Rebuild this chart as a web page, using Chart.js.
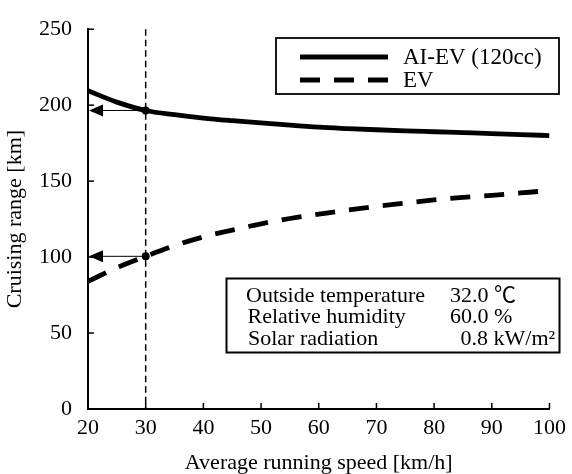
<!DOCTYPE html>
<html>
<head>
<meta charset="utf-8">
<script src="https://cdn.jsdelivr.net/npm/chart.js@4/dist/chart.umd.min.js"></script>
<style>
  html, body { margin: 0; padding: 0; background: #fff; }
  #wrap { width: 572px; height: 474px; position: relative; }
</style>
</head>
<body>
<div id="wrap"><canvas id="c" width="572" height="474"></canvas></div>
<script>
// ---- data ----
const speeds = [20, 25, 30, 35, 40, 45, 50, 55, 60, 65, 70, 75, 80, 85, 90, 95, 100];
const aiEvRange = [209.5, 202.0, 196.5, 193.7, 191.5, 189.8, 188.3, 186.8, 185.5, 184.6, 183.8, 183.1, 182.5, 181.9, 181.3, 180.6, 180.0];
const evRange = [84.0, 93.0, 100.5, 107.5, 113.3, 117.7, 121.9, 125.4, 128.2, 131.0, 133.4, 135.5, 137.6, 139.3, 140.6, 142.2, 143.8];
const seriesLabels = ['AI-EV (120cc)', 'EV'];
const markSpeed = 30;
const conditionLabels = ['Outside temperature', 'Relative humidity', 'Solar radiation'];
const conditionValues = ['32.0 \u2103', '60.0 %', '0.8 kW/m\u00B2'];
const xTitle = 'Average running speed [km/h]';
const yTitle = 'Cruising range [km]';

const FONT = "'Liberation Serif', 'Noto Sans CJK JP', 'Times New Roman', serif";
const FONT_SIZE = 22;

const toPts = (xs, ys) => xs.map((x, i) => ({ x: x, y: ys[i] }));

const overlay = {
  id: 'overlay',
  beforeDatasetsDraw(chart) {
    const ctx = chart.ctx;
    const xs = chart.scales.x, ys = chart.scales.y;
    const area = chart.chartArea;
    ctx.save();
    const px = xs.getPixelForValue(markSpeed);
    ctx.strokeStyle = '#000';
    ctx.lineWidth = 1.5;
    ctx.setLineDash([6.5, 4]);
    ctx.beginPath();
    ctx.moveTo(px, area.top);
    ctx.lineTo(px, area.bottom);
    ctx.stroke();
    ctx.setLineDash([]);
    ctx.lineWidth = 1.5;
    ys.ticks.forEach(t => {
      const y = ys.getPixelForValue(t.value);
      ctx.beginPath();
      ctx.moveTo(area.left, y);
      ctx.lineTo(area.left + 6, y);
      ctx.stroke();
    });
    xs.ticks.forEach(t => {
      const x = xs.getPixelForValue(t.value);
      ctx.beginPath();
      ctx.moveTo(x, area.bottom);
      ctx.lineTo(x, area.bottom - 6);
      ctx.stroke();
    });
    ctx.restore();
  },
  afterDatasetsDraw(chart) {
    const ctx = chart.ctx;
    const xs = chart.scales.x, ys = chart.scales.y;
    const area = chart.chartArea;
    ctx.save();
    const idx = speeds.indexOf(markSpeed);
    const px = xs.getPixelForValue(markSpeed);
    [aiEvRange[idx], evRange[idx]].forEach(v => {
      const py = ys.getPixelForValue(v);
      const tip = area.left + 1;
      ctx.strokeStyle = '#000';
      ctx.fillStyle = '#000';
      ctx.lineWidth = 1;
      ctx.beginPath();
      ctx.moveTo(px, py);
      ctx.lineTo(tip + 12, py);
      ctx.stroke();
      ctx.beginPath();
      ctx.moveTo(tip, py);
      ctx.lineTo(tip + 14, py - 6);
      ctx.lineTo(tip + 14, py + 6);
      ctx.closePath();
      ctx.fill();
      ctx.beginPath();
      ctx.arc(px, py, 4, 0, Math.PI * 2);
      ctx.fill();
    });

    // legend box
    ctx.fillStyle = '#fff';
    ctx.fillRect(276, 38, 283, 56);
    ctx.strokeStyle = '#000';
    ctx.lineWidth = 1.8;
    ctx.strokeRect(276, 38, 283, 56);
    const dsets = chart.data.datasets;
    const rows = [57, 80];
    ctx.font = '23px ' + FONT;
    ctx.textBaseline = 'alphabetic';
    ctx.textAlign = 'left';
    dsets.forEach((ds, i) => {
      ctx.strokeStyle = ds.borderColor;
      ctx.lineWidth = 5;
      ctx.setLineDash(ds.borderDash || []);
      ctx.beginPath();
      ctx.moveTo(300, rows[i]);
      ctx.lineTo(388, rows[i]);
      ctx.stroke();
      ctx.setLineDash([]);
      ctx.fillStyle = '#000';
      ctx.fillText(ds.label, 403, rows[i] + 6.5);
    });

    // conditions box
    ctx.fillStyle = '#fff';
    ctx.fillRect(226.5, 278.5, 333, 74);
    ctx.strokeStyle = '#000';
    ctx.lineWidth = 2;
    ctx.strokeRect(226.5, 278.5, 333, 74);
    ctx.fillStyle = '#000';
    ctx.font = FONT_SIZE + 'px ' + FONT;
    const base = [301.5, 323, 345];
    const lx = [246, 247.5, 248];
    const vx = [450, 450, 460.5];
    conditionLabels.forEach((s, i) => {
      ctx.fillText(s, lx[i], base[i]);
      ctx.fillText(conditionValues[i], vx[i], base[i]);
    });
    ctx.restore();
  }
};

new Chart(document.getElementById('c'), {
  type: 'line',
  data: {
    datasets: [
      {
        label: seriesLabels[0],
        data: toPts(speeds, aiEvRange),
        borderColor: '#000',
        borderWidth: 4.8,
        pointRadius: 0,
        fill: false,
        cubicInterpolationMode: 'monotone'
      },
      {
        label: seriesLabels[1],
        data: toPts(speeds, evRange),
        borderColor: '#000',
        borderWidth: 4.8,
        borderDash: [20, 14],
        pointRadius: 0,
        fill: false,
        cubicInterpolationMode: 'monotone'
      }
    ]
  },
  options: {
    responsive: false,
    animation: false,
    devicePixelRatio: 1,
    layout: { padding: { left: 0, right: 19, top: 20, bottom: 0 } },
    plugins: { legend: { display: false }, tooltip: { enabled: false } },
    scales: {
      x: {
        type: 'linear',
        min: 20, max: 100,
        afterFit: s => { s.height = 65; },
        ticks: { stepSize: 10, color: '#000', padding: 6, font: { family: FONT, size: FONT_SIZE }, maxRotation: 0 },
        grid: { display: false, drawTicks: false },
        border: { display: true, color: '#000', width: 2 },
        title: { display: true, text: xTitle, color: '#000', font: { family: FONT, size: FONT_SIZE, lineHeight: 1.0 }, padding: { top: 0, bottom: 0 } }
      },
      y: {
        type: 'linear',
        min: 0, max: 250,
        afterFit: s => { s.width = 88; },
        ticks: { stepSize: 50, color: '#000', padding: 16, font: { family: FONT, size: FONT_SIZE } },
        grid: { display: false, drawTicks: false },
        border: { display: true, color: '#000', width: 2 },
        title: { display: true, text: yTitle, color: '#000', font: { family: FONT, size: FONT_SIZE, lineHeight: 1.2 }, padding: { top: 2, bottom: 0 } }
      }
    }
  },
  plugins: [overlay]
});
</script>
</body>
</html>
